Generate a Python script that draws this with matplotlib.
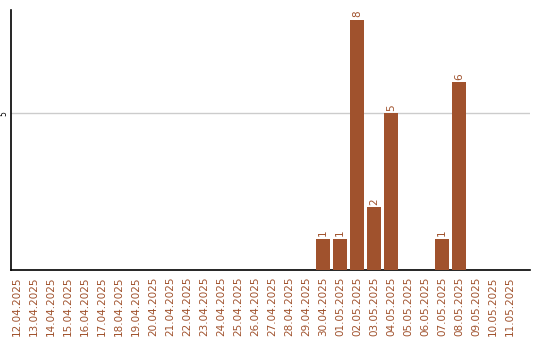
import matplotlib
matplotlib.use("Agg")
import matplotlib.pyplot as plt
import pandas as pd

# daily counts, 12.04.2025 - 11.05.2025
dates = pd.date_range("2025-04-12", "2025-05-11").strftime("%d.%m.%Y").tolist()
counts = [0] * 18 + [1, 1, 8, 2, 5, 0, 0, 1, 6, 0, 0, 0]

bar_color = "#A0522D"

fig = plt.figure(figsize=(5.4, 3.4), dpi=100)
ax = fig.add_axes([0.0204, 0.206, 0.961, 0.764])

pos = list(range(len(dates)))
shown = [(p, c) for p, c in zip(pos, counts) if c > 0]
bars = ax.bar([p for p, c in shown], [c for p, c in shown], width=0.82,
              color=bar_color, zorder=3)
for p, c in shown:
    ax.text(p, c + 0.08, str(c), rotation=90, ha="center", va="bottom",
            fontsize=7.5, color=bar_color)

ax.set_xlim(-0.35, 30.18)
ax.set_ylim(0, 8.3)
ax.set_xticks(pos)
ax.set_xticklabels(dates, rotation=90, fontsize=7.5, color=bar_color)
ax.tick_params(axis="x", length=0, pad=5)
ax.set_yticks([5])
ax.set_yticklabels(["5"], rotation=90, fontsize=5.5, va="center")
ax.tick_params(axis="y", length=0, pad=2)
ax.grid(axis="y", color="#cccccc", linewidth=1, zorder=0)
for s in ["top", "right"]:
    ax.spines[s].set_visible(False)
ax.spines["left"].set_linewidth(1.2)
ax.spines["bottom"].set_linewidth(1.2)

fig.savefig("out.png", dpi=100)
